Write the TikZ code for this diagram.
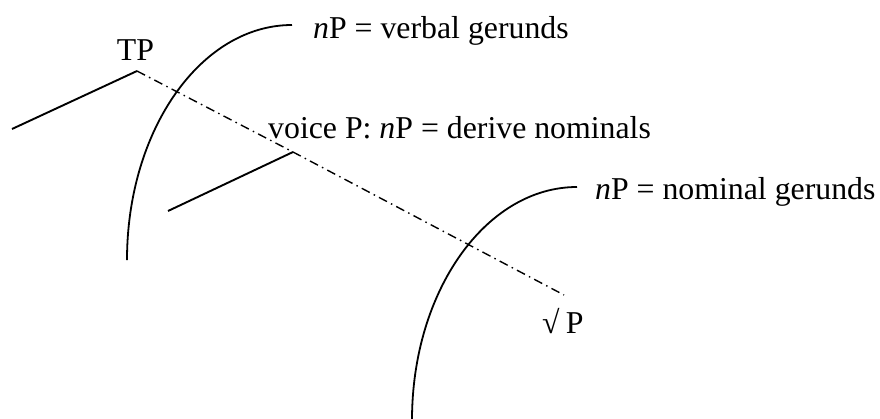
\documentclass[tikz,border=0pt]{standalone}
\usepackage{fontspec}
\setmainfont{Liberation Serif}
\begin{document}
\begin{tikzpicture}[x=1pt,y=-1pt,
  branch/.style={line width=1.9pt},
  phase/.style={line width=1.8pt},
  spine/.style={line width=1.4pt, dash pattern=on 9pt off 4.5pt on 1.5pt off 4.5pt},
  lbl/.style={inner sep=0pt, anchor=base west, font=\fontsize{31.8}{38}\selectfont}]
\useasboundingbox (0,0) rectangle (880,418);
% labels
\node[lbl, anchor=base] (TP) at (135.5,60) {TP};
\node[lbl] (verbal) at (313,38) {\textit{n}P = verbal gerunds};
\node[lbl] (voice) at (268,138) {voice P: \textit{n}P = derive nominals};
\node[lbl] (nominal) at (595,199) {\textit{n}P = nominal gerunds};
\node[lbl] (root) at (542,333) {√\hspace{0.2em}P};
% tree points
\coordinate (tpapex) at (137,71);
\coordinate (tpleft) at (12,129);
\coordinate (vapex) at (293,152);
\coordinate (vleft) at (168,211);
\coordinate (rootend) at (564,295);
% tree
\draw[branch] (tpleft) -- (tpapex);
\draw[branch] (vleft) -- (vapex);
\draw[spine] (tpapex) -- (vapex) -- (rootend);
% phase curves
\coordinate (c1a) at (127,260);
\coordinate (c1b) at (292,25);
\coordinate (c2a) at (412,420);
\coordinate (c2b) at (577,187);
\draw[phase] (c1a) .. controls (127,130) and (201,25) .. (c1b);
\draw[phase] (c2a) .. controls (412,291) and (486,187) .. (c2b);
\end{tikzpicture}
\end{document}
